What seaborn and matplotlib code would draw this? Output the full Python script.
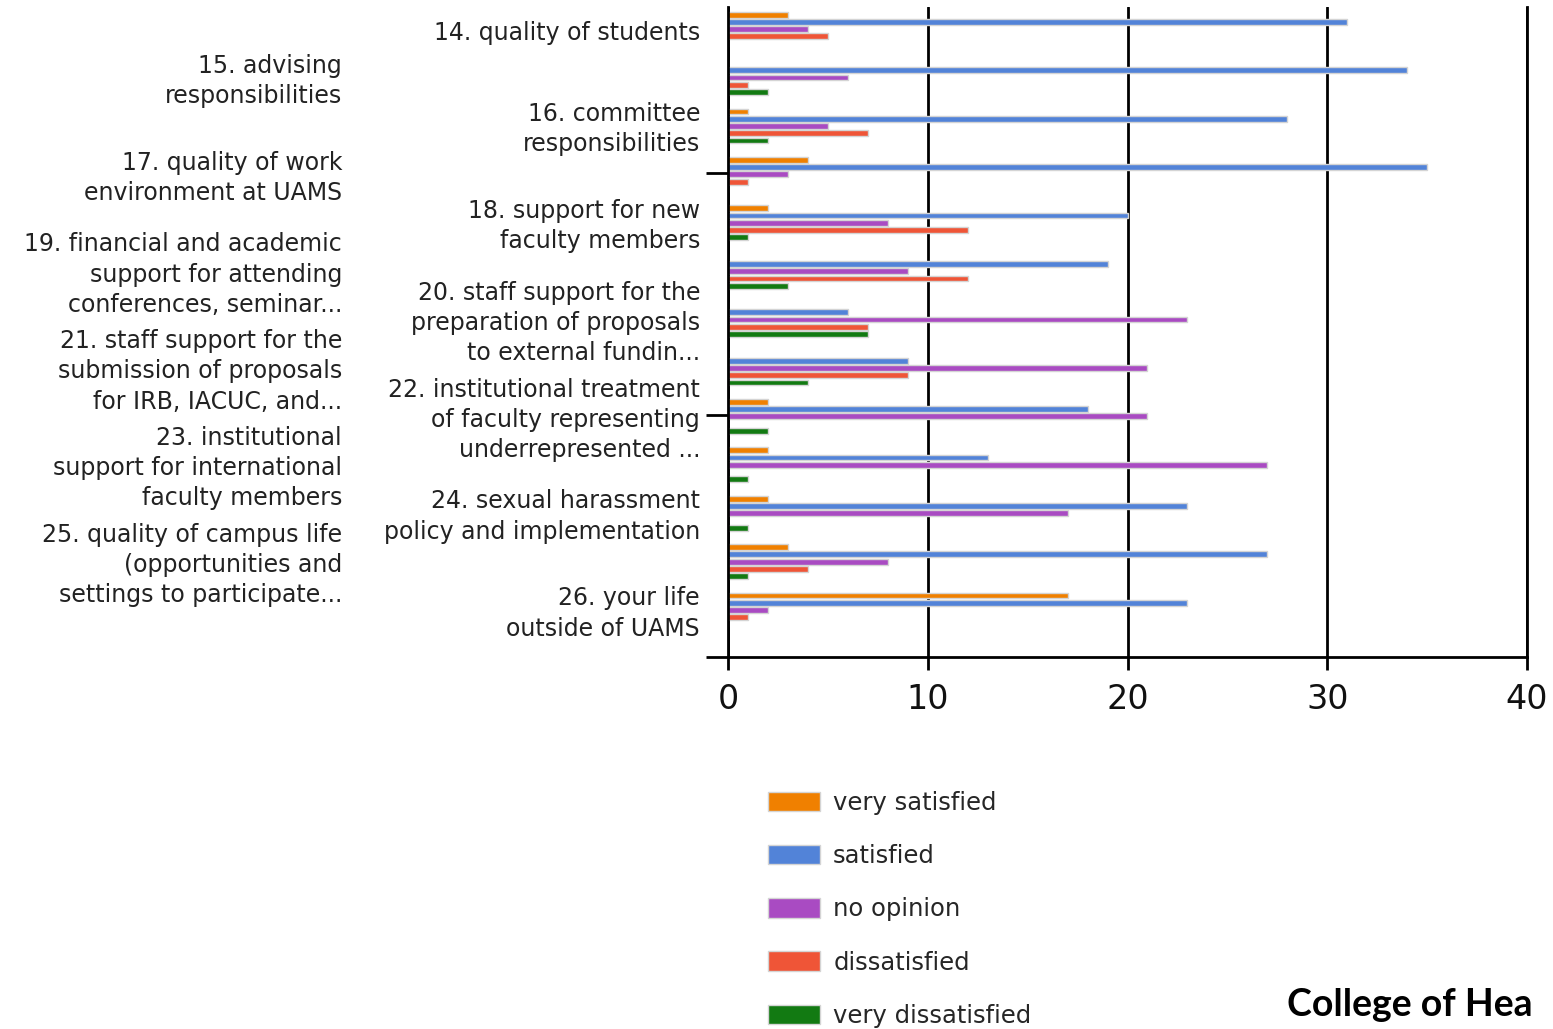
import matplotlib
matplotlib.use("Agg")
import matplotlib.pyplot as plt
import seaborn as sns
import pandas as pd

questions = [
    "14. quality of students",
    "15. advising\nresponsibilities",
    "16. committee\nresponsibilities",
    "17. quality of work\nenvironment at UAMS",
    "18. support for new\nfaculty members",
    "19. financial and academic\nsupport for attending\nconferences, seminar...",
    "20. staff support for the\npreparation of proposals\nto external fundin...",
    "21. staff support for the\nsubmission of proposals\nfor IRB, IACUC, and...",
    "22. institutional treatment\nof faculty representing\nunderrepresented ...",
    "23. institutional\nsupport for international\nfaculty members",
    "24. sexual harassment\npolicy and implementation",
    "25. quality of campus life\n(opportunities and\nsettings to participate...",
    "26. your life\noutside of UAMS",
]
ratings = ["very satisfied", "satisfied", "no opinion", "dissatisfied", "very dissatisfied"]

very_satisfied = [3, 0, 1, 4, 2, 0, 0, 0, 2, 2, 2, 3, 17]
satisfied = [31, 34, 28, 35, 20, 19, 6, 9, 18, 13, 23, 27, 23]
no_opinion = [4, 6, 5, 3, 8, 9, 23, 21, 21, 27, 17, 8, 2]
dissatisfied = [5, 1, 7, 1, 12, 12, 7, 9, 0, 0, 0, 4, 1]
very_dissatisfied = [0, 2, 2, 0, 1, 3, 7, 4, 2, 1, 1, 1, 0]

x_ticks = [0, 10, 20, 30, 40]
footer_text = "College of Hea"

colors = ["#F08000", "#5283D8", "#A94BC2", "#EF5537", "#127A12"]

sns.set_theme(style="white")
plt.rcParams["font.family"] = ["DejaVu Sans"]

series = [very_satisfied, satisfied, no_opinion, dissatisfied, very_dissatisfied]
rows = []
for r, vals in zip(ratings, series):
    for q, v in zip(questions, vals):
        rows.append({"question": q, "rating": r, "count": v})
df = pd.DataFrame(rows)

fig = plt.figure(figsize=(15.53, 10.29), dpi=100)
ax = fig.add_axes([0.46877, 0.36152, 0.51449, 0.63168])

sns.barplot(data=df, x="count", y="question", hue="rating",
            hue_order=ratings, order=questions, palette=colors,
            orient="h", width=0.75, gap=0.2, saturation=1,
            edgecolor="#d4d4d4", linewidth=1.0, errorbar=None, ax=ax)

handles, labels = ax.get_legend_handles_labels()
if ax.get_legend() is not None:
    ax.get_legend().remove()

ax.set_xlim(0, 40)
ax.set_ylim(12.97, -0.457)
ax.set_xlabel("")
ax.set_ylabel("")

# category labels in two staggered columns
ytrans = ax.get_yaxis_transform()
for i, q in enumerate(questions):
    xpos = -0.035 if i % 2 == 0 else -0.4831
    ax.text(xpos, i + 0.07, q, transform=ytrans, ha="right", va="center",
            fontsize=17, linespacing=1.33, color="#222222")

ax.set_yticks([2.97, 7.97, 12.97])
ax.set_yticklabels([])
ax.set_xticks(x_ticks)
ax.set_xticklabels([str(t) for t in x_ticks])
ax.tick_params(axis="y", left=True, length=15.8, width=2, color="black", direction="out")
ax.tick_params(axis="x", bottom=True, length=9.4, width=2, color="black",
               direction="out", pad=9, labelsize=24, labelcolor="#111111")

ax.grid(axis="x", color="black", linewidth=2.0)
ax.grid(axis="y", visible=False)
ax.set_axisbelow(True)
for side in ["left", "bottom", "right"]:
    ax.spines[side].set_visible(True)
    ax.spines[side].set_color("black")
    ax.spines[side].set_linewidth(2.0)
ax.spines["top"].set_visible(False)

fig.legend(handles, labels, loc="upper left",
           bbox_to_anchor=(768 / 1553, 1 - 791 / 1029),
           bbox_transform=fig.transFigure, frameon=False,
           fontsize=17.5, handlelength=2.15, handleheight=0.85,
           handletextpad=0.53, labelspacing=1.2, borderpad=0,
           borderaxespad=0)

fig.text(1287 / 1553, 1 - 1005 / 1029, footer_text, ha="left", va="center",
         fontsize=27, fontweight="bold", family=["Lato", "DejaVu Sans"], color="black")

fig.savefig("out.png", dpi=100)
